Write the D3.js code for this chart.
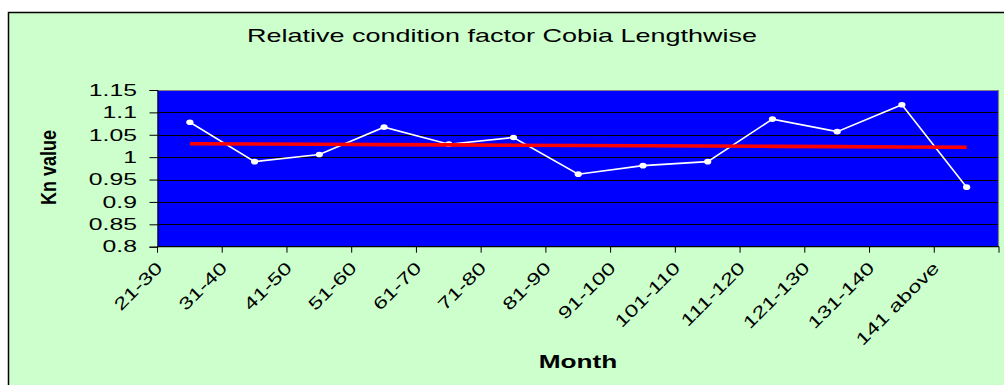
<!DOCTYPE html>
<html>
<head>
<meta charset="utf-8">
<script src="https://cdn.jsdelivr.net/npm/d3@7"></script>
<style>
  html, body { margin: 0; padding: 0; background: #ffffff; }
  svg { display: block; font-family: "Liberation Sans", Arial, sans-serif; }
</style>
</head>
<body>
<svg id="chart" width="1004" height="385"></svg>
<script>
// Length classes (cm) and the relative condition factor (Kn) for each class
const categories = ["21-30", "31-40", "41-50", "51-60", "61-70", "71-80", "81-90",
                    "91-100", "101-110", "111-120", "121-130", "131-140", "141 above"];
const knValues = [1.078, 0.990, 1.006, 1.067, 1.029, 1.044, 0.962,
                  0.981, 0.990, 1.085, 1.057, 1.117, 0.933];
const yTicks = [0.8, 0.85, 0.9, 0.95, 1, 1.05, 1.1, 1.15];
const yTickLabels = ["0.8", "0.85", "0.9", "0.95", "1", "1.05", "1.1", "1.15"];

const titleText = "Relative condition factor Cobia Lengthwise";
const xTitle = "Month";
const yTitle = "Kn value";

const svg = d3.select("#chart");
const W = 1004, H = 385;
const plot = { left: 157.5, right: 999, top: 90, bottom: 246.7 };
const stretch = 1.42; // wide lettering used throughout the chart

// chart background with frame
svg.append("rect")
  .attr("x", 8.5).attr("y", 12.5)
  .attr("width", W + 20).attr("height", H + 20)
  .attr("fill", "#CCFFCC")
  .attr("stroke", "#000").attr("stroke-width", 1.5);

const x = d3.scaleBand().domain(categories).range([plot.left, plot.right]).padding(0);
const y = d3.scaleLinear().domain([0.8, 1.15]).range([plot.bottom, plot.top]);
const cx = d => x(d) + x.bandwidth() / 2;

// plot area
svg.append("rect")
  .attr("x", plot.left).attr("y", plot.top)
  .attr("width", plot.right - plot.left).attr("height", plot.bottom - plot.top)
  .attr("fill", "#0000FF");

// horizontal gridlines
svg.append("g").selectAll("line")
  .data(yTicks.filter(t => t > 0.8 && t < 1.15))
  .join("line")
  .attr("x1", plot.left).attr("x2", plot.right)
  .attr("y1", d => Math.round(y(d)) + 0.5).attr("y2", d => Math.round(y(d)) + 0.5)
  .attr("stroke", "#000").attr("stroke-width", 1);

// top and right border of plot area
svg.append("path")
  .attr("d", `M${plot.left},${plot.top + 0.5}H${plot.right - 0.5}V${plot.bottom}`)
  .attr("fill", "none").attr("stroke", "#808080").attr("stroke-width", 1.2);

// y axis
const yAxis = d3.axisLeft(y).tickValues(yTicks).tickSize(8).tickFormat("");
const gy = svg.append("g").attr("transform", `translate(${plot.left},0)`).call(yAxis);
gy.select(".domain").attr("stroke", "#000");
gy.selectAll(".tick line").attr("stroke", "#000");

svg.append("g").selectAll("text")
  .data(yTicks)
  .join("text")
  .attr("transform", d => `translate(137,${y(d)}) scale(1.5,1)`)
  .attr("dy", "0.35em")
  .attr("text-anchor", "end")
  .attr("font-size", 16.5)
  .attr("fill", "#000")
  .text((d, i) => yTickLabels[i]);

// x axis: tick marks at the band edges
const edges = categories.map(c => x(c)).concat([plot.right]);
const gx = svg.append("g");
gx.append("line")
  .attr("x1", plot.left).attr("x2", plot.right)
  .attr("y1", plot.bottom).attr("y2", plot.bottom)
  .attr("stroke", "#000").attr("stroke-width", 1.2);
gx.selectAll("line.tk")
  .data(edges)
  .join("line")
  .attr("class", "tk")
  .attr("x1", d => d).attr("x2", d => d)
  .attr("y1", plot.bottom).attr("y2", plot.bottom + 6)
  .attr("stroke", "#000");

// rotated category labels
svg.append("g").selectAll("text")
  .data(categories)
  .join("text")
  .attr("transform", d => `translate(${x(d) + 6},269) rotate(-45) scale(1.38,1)`)
  .attr("text-anchor", "end")
  .attr("font-size", 17)
  .attr("fill", "#000")
  .text(d => d);

// least-squares trend line of the Kn values
const n = knValues.length;
const xs = d3.range(1, n + 1);
const mx = d3.mean(xs), my = d3.mean(knValues);
const slope = d3.sum(xs, (v, i) => (v - mx) * (knValues[i] - my)) / d3.sum(xs, v => (v - mx) ** 2);
const trend = xs.map(v => my + slope * (v - mx));

const line = d3.line().x((d, i) => cx(categories[i])).y(d => y(d));

// Kn series
svg.append("path")
  .datum(knValues)
  .attr("d", line)
  .attr("fill", "none")
  .attr("stroke", "#FFFFFF")
  .attr("stroke-width", 1.6);

svg.append("g").selectAll("ellipse")
  .data(knValues)
  .join("ellipse")
  .attr("cx", (d, i) => cx(categories[i]))
  .attr("cy", d => y(d))
  .attr("rx", 3.6).attr("ry", 2.8)
  .attr("fill", "#FFFFFF");

svg.append("path")
  .datum(trend)
  .attr("d", line)
  .attr("fill", "none")
  .attr("stroke", "#FF0000")
  .attr("stroke-width", 3.6);

// titles
svg.append("text")
  .attr("transform", `translate(502,41.5) scale(${stretch},1)`)
  .attr("text-anchor", "middle")
  .attr("font-size", 19)
  .attr("fill", "#000")
  .text(titleText);

svg.append("text")
  .attr("transform", `translate(578,368) scale(${stretch},1)`)
  .attr("text-anchor", "middle")
  .attr("font-size", 18.5)
  .attr("font-weight", "bold")
  .attr("fill", "#000")
  .text(xTitle);

svg.append("text")
  .attr("transform", `translate(56,167.5) scale(1.2,1) rotate(-90)`)
  .attr("text-anchor", "middle")
  .attr("font-size", 18)
  .attr("font-weight", "bold")
  .attr("fill", "#000")
  .text(yTitle);
</script>
</body>
</html>
